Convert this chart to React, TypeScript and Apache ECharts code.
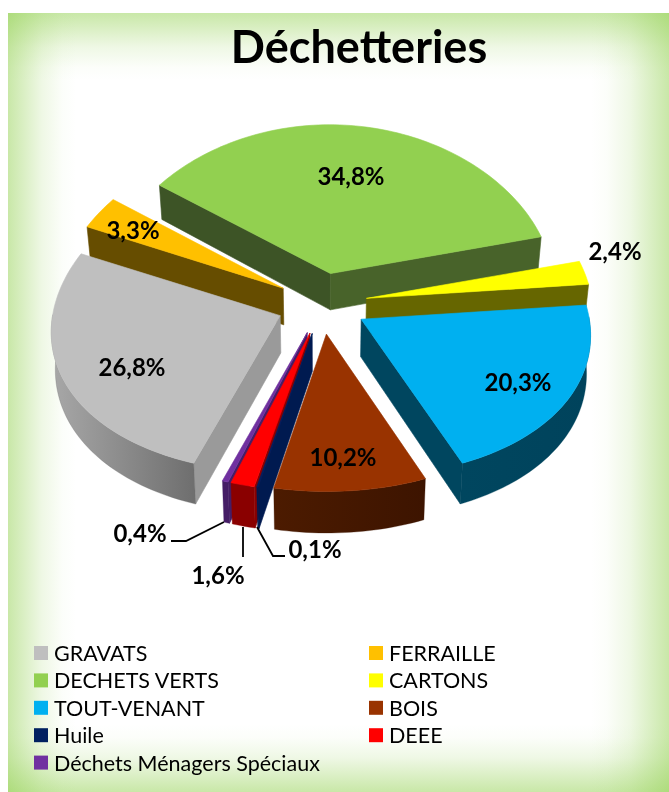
import React, { useEffect, useRef } from "react";
import * as echarts from "echarts";

const categories = ["GRAVATS", "FERRAILLE", "DECHETS VERTS", "CARTONS", "TOUT-VENANT", "BOIS", "Huile", "DEEE", "Déchets Ménagers Spéciaux"];
const shares = [26.8, 3.3, 34.8, 2.4, 20.3, 10.2, 0.1, 1.6, 0.4];
const shareLabels = ["26,8%", "3,3%", "34,8%", "2,4%", "20,3%", "10,2%", "0,1%", "1,6%", "0,4%"];
const legendLeft = ["GRAVATS", "DECHETS VERTS", "TOUT-VENANT", "Huile", "Déchets Ménagers Spéciaux"];
const legendRight = ["FERRAILLE", "CARTONS", "BOIS", "DEEE"];

const topColors = ["#bfbfbf", "#ffc000", "#92d050", "#ffff00", "#00b0f0", "#993300", "#002060", "#ff0000", "#7030a0"];
const startWall = ["#9a9a9a", "#664d00", "#3d5426", "#666600", "#00465f", "#3d1500", "#001a50", "#8a0000", "#451d66"];
const endWall = ["#8c8c8c", "#664d00", "#48632a", "#666600", "#00465f", "#3d1500", "#001a50", "#8a0000", "#451d66"];
const outerWallA = ["#a8a8a8", "#664d00", "#48632a", "#666600", "#00465f", "#4c1b00", "#001a50", "#8a0000", "#451d66"];
const outerWallB = ["#6e6e6e", "#664d00", "#48632a", "#666600", "#00435c", "#3d1400", "#001a50", "#8a0000", "#451d66"];
const labelSpots: number[][] = [[132, 366], [133, 229], [351, 175], [615, 250], [518, 381], [343, 456], [315, 548], [218, 574], [140, 532]];
const leaders: number[][][] = [[], [], [], [], [], [], [[257, 527], [273, 556], [285, 556]], [[243, 527], [243, 557]], [[224, 522], [186, 541], [171, 541]]];
const drawOrder = [2, 1, 3, 0, 4, 8, 7, 6, 5];

const START = 199.8, CX = 322, CY = 303.5, RX = 226, RY = 153, EXPLODE = 0.2, PERSP_X = 0.09, PERSP_Y = 0.02, DEPTH = 37, VIEW_WARP = 2.5;
const FONT = "Lato";

const total = shares.reduce((a, b) => a + b, 0);
const bounds: number[] = [];
{
  let a = START;
  shares.forEach((s) => { bounds.push(a); a += (s / total) * 360; });
  bounds.push(a);
}
const rad = (d: number) => (d * Math.PI) / 180;
// The camera's foreshortening shifts apparent angles a little
const seen = (d: number) => d + VIEW_WARP * Math.sin(rad(d - 10));
function project(x: number, y: number) {
  return [CX + (RX * x) / (1 - PERSP_X * y), CY + (RY * y) / (1 - PERSP_Y * y)];
}
const down = (p: number[]) => [CX + (p[0] - CX) * 0.985, p[1] + DEPTH + (p[1] - CY) * 0.024];

function sliceChildren(i: number) {
  const a = seen(bounds[i]), b = seen(bounds[i + 1]), mid = (a + b) / 2;
  const ox = EXPLODE * Math.sin(rad(mid)), oy = -EXPLODE * Math.cos(rad(mid));
  const at = (d: number, r: number) => project(ox + r * Math.sin(rad(d)), oy - r * Math.cos(rad(d)));
  const apex = at(a, 0);
  const n = Math.max(2, Math.ceil((b - a) / 1.5));
  const arc: number[][] = [];
  for (let k = 0; k <= n; k++) arc.push(at(a + ((b - a) * k) / n, 1));
  const kids: any[] = [];
  const poly = (pts: number[][], fill: any, stroke?: string) =>
    kids.push({ type: "polygon", shape: { points: pts }, style: { fill, stroke: stroke || (typeof fill === "string" ? fill : "none"), lineWidth: 0.6 } });

  // Radial cut faces that look towards the viewer
  if (Math.cos(rad(a - 90)) < 0) poly([apex, arc[0], down(arc[0]), down(apex)], startWall[i]);
  if (Math.cos(rad(b + 90)) < 0) poly([apex, arc[n], down(arc[n]), down(apex)], endWall[i]);

  // Rim facing the viewer
  const front: number[][] = [];
  for (let k = 0; k <= n; k++) {
    const d = a + ((b - a) * k) / n;
    if (Math.cos(rad(d)) < 0.02) front.push(arc[k]);
  }
  if (front.length > 1) {
    const fill = new echarts.graphic.LinearGradient(0, 0, 1, 0, [
      { offset: 0, color: outerWallA[i] },
      { offset: 1, color: outerWallB[i] },
    ]);
    const shape = [...front, ...front.slice().reverse().map(down)];
    kids.push({ type: "polygon", shape: { points: shape }, style: { fill, stroke: outerWallB[i], lineWidth: 0.3 } });
  }

  poly([apex, ...arc], topColors[i]);

  if (leaders[i].length) {
    kids.push({ type: "polyline", shape: { points: leaders[i] }, style: { fill: "none", stroke: "#000", lineWidth: 1.8 } });
  }
  kids.push({
    type: "text", x: labelSpots[i][0], y: labelSpots[i][1],
    style: { text: shareLabels[i], fill: "#000", font: `bold 24px ${FONT}`, align: "center", verticalAlign: "middle" },
  });
  return kids;
}

const edge = (x: number, y: number, x2: number, y2: number) =>
  new echarts.graphic.LinearGradient(x, y, x2, y2, [
    { offset: 0, color: "rgba(146,208,80,0.5)" },
    { offset: 0.5, color: "rgba(146,208,80,0.15)" },
    { offset: 0.8, color: "rgba(146,208,80,0.03)" },
    { offset: 1, color: "rgba(146,208,80,0)" },
  ]);

export default function App() {
  const ref = useRef<HTMLDivElement>(null);
  useEffect(() => {
    const chart = echarts.init(ref.current!, undefined, { renderer: "svg" });
    const L = 8, T = 13, W = 661, H = 779, F = 68, FR = 78;
    const legendBase = {
      orient: "vertical" as const, top: 642, itemWidth: 14, itemHeight: 14, itemGap: 5.4, icon: "rect",
      selectedMode: false, padding: 0,
      textStyle: { fontFamily: FONT, fontSize: 21.5, color: "#000", padding: [0, 0, 0, 1] },
    };
    chart.setOption({
      animation: false,
      title: {
        text: "Déchetteries", left: 354, top: 18, textAlign: "center",
        textStyle: { fontFamily: FONT, fontWeight: "bold", fontSize: 45, color: "#000" },
      },
      legend: [
        { ...legendBase, left: 34, data: legendLeft },
        { ...legendBase, left: 369, data: legendRight },
      ],
      graphic: [
        { type: "rect", shape: { x: L, y: T, width: W, height: H }, style: { fill: "#fff" } },
        { type: "rect", shape: { x: L, y: T, width: W, height: F }, style: { fill: edge(0, 0, 0, 1) } },
        { type: "rect", shape: { x: L, y: T + H - F, width: W, height: F }, style: { fill: edge(0, 1, 0, 0) } },
        { type: "rect", shape: { x: L, y: T, width: F, height: H }, style: { fill: edge(0, 0, 1, 0) } },
        { type: "rect", shape: { x: L + W - FR, y: T, width: FR, height: H }, style: { fill: edge(1, 0, 0, 0) } },
      ],
      series: drawOrder.map((i) => ({
        type: "custom",
        name: categories[i],
        coordinateSystem: "none",
        silent: true,
        itemStyle: { color: topColors[i] },
        data: [[shares[i]]],
        renderItem: () => ({ type: "group", children: sliceChildren(i) }),
      })),
    });
    return () => chart.dispose();
  }, []);
  return <div ref={ref} style={{ position: "fixed", left: 0, top: 0, width: 669, height: 792 }} />;
}
